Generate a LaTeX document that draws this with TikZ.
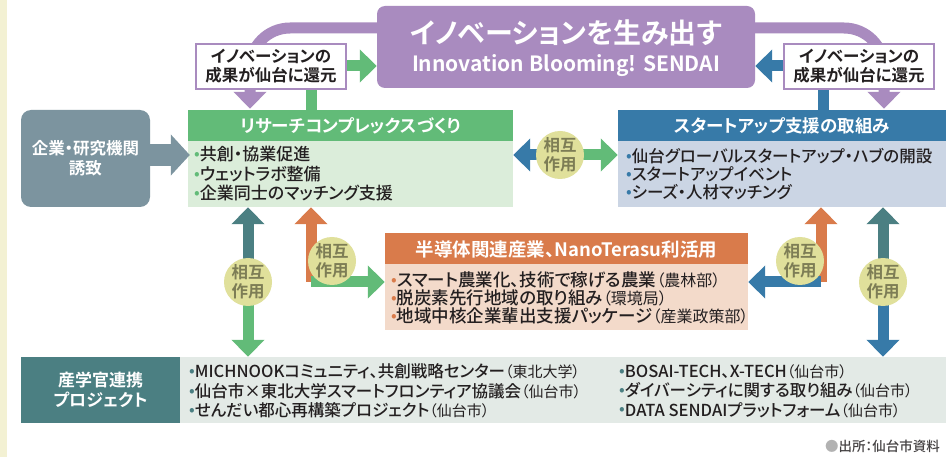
\documentclass[tikz,border=0pt]{standalone}
\usepackage{fontspec}
\setmainfont{Noto Sans CJK JP}[UprightFont=* Medium, BoldFont=* Bold, RawFeature=+palt]
\newfontfamily\lightjp{Noto Sans CJK JP}[RawFeature=+palt]
\usetikzlibrary{arrows.meta,calc}
\definecolor{cpurple}{HTML}{A98BBF}
\definecolor{cgreen}{HTML}{62BB78}
\definecolor{clgreen}{HTML}{DBEDDA}
\definecolor{cblue}{HTML}{377AA8}
\definecolor{clblue}{HTML}{CBD5E4}
\definecolor{corange}{HTML}{D97B4B}
\definecolor{clorange}{HTML}{F3DACA}
\definecolor{cteal}{HTML}{4B7F82}
\definecolor{cslate}{HTML}{7C949F}
\definecolor{clgray}{HTML}{E3EAE6}
\definecolor{ccirc}{HTML}{E0E09B}
\definecolor{ccirctext}{HTML}{7D7D55}
\definecolor{cstrip}{HTML}{F3F1D3}
\definecolor{ctext}{HTML}{231F20}
\newcommand\fs[1]{\fontsize{#1}{#1}\selectfont}
\newcommand\bul[1]{{\color{#1}\raisebox{1.2pt}{\fs{16}•}}}
\newcommand\sm[1]{{\lightjp\fs{15}#1}}
\newcommand\smb[1]{{\lightjp\fs{16}#1}}
\tikzset{
  fat/.style={line width=11pt, -{Triangle[width=32pt,length=17pt]}},
  fatg/.style={line width=22pt, -{Triangle[width=40pt,length=19pt]}},
  hdr/.style={inner sep=0pt, minimum height=31pt, text=white, font=\bfseries\fs{17.5}},
  bodybox/.style={inner sep=0pt, minimum height=66pt},
  items/.style={anchor=west, align=left, inner sep=0pt, text=ctext},
  lab/.style={draw=cpurple, line width=2.5pt, fill=white, minimum width=150pt, minimum height=45pt, inner sep=0pt, align=center, text=ctext, font=\bfseries\fontsize{16.5}{19}\selectfont},
  circ/.style={circle, fill=ccirc, minimum size=48pt, inner sep=0pt, align=center, text=ccirctext, font=\bfseries\fontsize{16.5}{19}\selectfont},
}
\begin{document}
\begin{tikzpicture}[x=1pt,y=-1pt]
\useasboundingbox (0,0) rectangle (946,457);
\fill[white] (0,0) rectangle (946,457);
\fill[cstrip] (0,0) rectangle (7,457);

% boxes
\node[fill=cpurple, rounded corners=8pt, minimum width=378pt, minimum height=82pt, inner sep=0pt] (top) at (566,47) {};
\node[fill=cslate, rounded corners=10pt, minimum width=129pt, minimum height=97pt, inner sep=0pt, align=center, text=white, font=\bfseries\fontsize{16.5}{20}\selectfont] (gray) at (85.5,158.5) {企業・研究機関\\誘致};

\node[hdr, fill=cgreen, minimum width=325pt] (rch) at (350.5,125.5) {リサーチコンプレックスづくり};
\node[bodybox, fill=clgreen, minimum width=325pt] (rcb) at (350.5,174) {};
\node[items, font=\fontsize{17}{19.5}\selectfont] (rct) at (194,174) {\bul{cgreen}共創・協業促進\\\bul{cgreen}ウェットラボ整備\\\bul{cgreen}企業同士のマッチング支援};

\node[hdr, fill=cblue, minimum width=328pt] (sth) at (782,125.5) {スタートアップ支援の取組み};
\node[bodybox, fill=clblue, minimum width=328pt] (stb) at (782,174) {};
\node[items, font=\fontsize{16.5}{18}\selectfont] (stt) at (626,174) {\bul{cblue}仙台グローバルスタートアップ・ハブの開設\\\bul{cblue}スタートアップイベント\\\bul{cblue}シーズ・人材マッチング};

\node[hdr, fill=corange, minimum width=363pt, font=\bfseries\fs{18.5}] (seh) at (566.5,249) {半導体関連産業、NanoTerasu利活用};
\node[bodybox, fill=clorange, minimum width=363pt] (seb) at (566.5,297) {};
\node[items, font=\fontsize{17.5}{18.2}\selectfont] (set) at (391,298) {\bul{corange}スマート農業化、技術で稼げる農業\smb{（農林部）}\\\bul{corange}脱炭素先行地域の取り組み\smb{（環境局）}\\\bul{corange}地域中核企業輩出支援パッケージ\smb{（産業政策部）}};

\node[fill=cteal, minimum width=159pt, minimum height=66pt, inner sep=0pt, align=center, text=white, font=\bfseries\fontsize{17}{20}\selectfont] (pj) at (100.5,390) {産学官連携\\プロジェクト};
\node[bodybox, fill=clgray, minimum width=766pt] (pjb) at (563,390) {};
\node[items, font=\fontsize{16.5}{19.5}\selectfont] (pjl) at (189,391) {\bul{cteal}MICHNOOKコミュニティ、共創戦略センター\sm{（東北大学）}\\\bul{cteal}仙台市×東北大学スマートフロンティア協議会\sm{（仙台市）}\\\bul{cteal}せんだい都心再構築プロジェクト\sm{（仙台市）}};
\node[items, font=\fontsize{16.5}{19.5}\selectfont] (pjr) at (619,391) {\bul{cteal}BOSAI-TECH、X-TECH\sm{（仙台市）}\\\bul{cteal}ダイバーシティに関する取り組み\sm{（仙台市）}\\\bul{cteal}DATA SENDAIプラットフォーム\sm{（仙台市）}};

% coordinates
\coordinate (pL) at (250,28);
\coordinate (pR) at (884,28);
\coordinate (gT) at (311,66);
\coordinate (bT) at (823,66);

% purple loops
\draw[fat, cpurple, rounded corners=40pt] (top.west |- pL) -| ([yshift=1pt]rch.north -| pL);
\draw[fat, cpurple, rounded corners=40pt] (top.east |- pR) -| ([yshift=1pt]sth.north -| pR);
% green/blue up to top
\draw[fat, cgreen] (rch.north -| gT) |- (top.west |- gT);
\draw[fat, cblue] (sth.north -| bT) |- (top.east |- bT);

% labels
\node[lab] (labL) at (271,66.5) {イノベーションの\\成果が仙台に還元};
\node[lab] (labR) at (859,66.5) {イノベーションの\\成果が仙台に還元};

% top text
\node[inner sep=0pt, text=white, font=\bfseries\fs{28}] (t1) at (top.center |- 0,33) {イノベーションを生み出す};
\node[inner sep=0pt, text=white, font=\bfseries\fs{21}] (t2) at (top.center |- 0,66) {Innovation Blooming! SENDAI};

% gray arrow
\draw[fatg, cslate] (gray.east |- 0,155) -- ([xshift=2pt]rcb.west |- 0,155);

% interaction circles
\coordinate (c1) at (560,155);
\draw[fat, cblue] (c1) -- (rcb.east |- c1);
\draw[fat, cgreen] (c1) -- (stb.west |- c1);
\node[circ] (k1) at (c1) {相互\\作用};

\coordinate (c2) at (248,282);
\draw[fat, cteal] (c2) -- (rcb.south -| c2);
\draw[fat, cgreen] (c2) -- (pjb.north -| c2);
\node[circ] (k2) at (c2) {相互\\作用};

\coordinate (x3) at (311,282);
\draw[fat, corange] (x3) -- (rcb.south -| x3);
\draw[fat, cgreen] (x3) -- (seb.west |- x3);
\node[circ] (k3) at (332,261) {相互\\作用};

\coordinate (x4) at (821,282);
\draw[fat, corange] (x4) -- (stb.south -| x4);
\draw[fat, cblue] (x4) -- (seb.east |- x4);
\node[circ] (k4) at (800,261) {相互\\作用};

\coordinate (c5) at (883,282);
\draw[fat, cteal] (c5) -- (stb.south -| c5);
\draw[fat, cblue] (c5) -- (pjb.north -| c5);
\node[circ] (k5) at (c5) {相互\\作用};

% footer
\node[anchor=east, inner sep=0pt, text=ctext!85, font=\fs{13.5}] (src) at (940,446) {{\color{black!30}●}出所：仙台市資料};
\end{tikzpicture}
\end{document}
